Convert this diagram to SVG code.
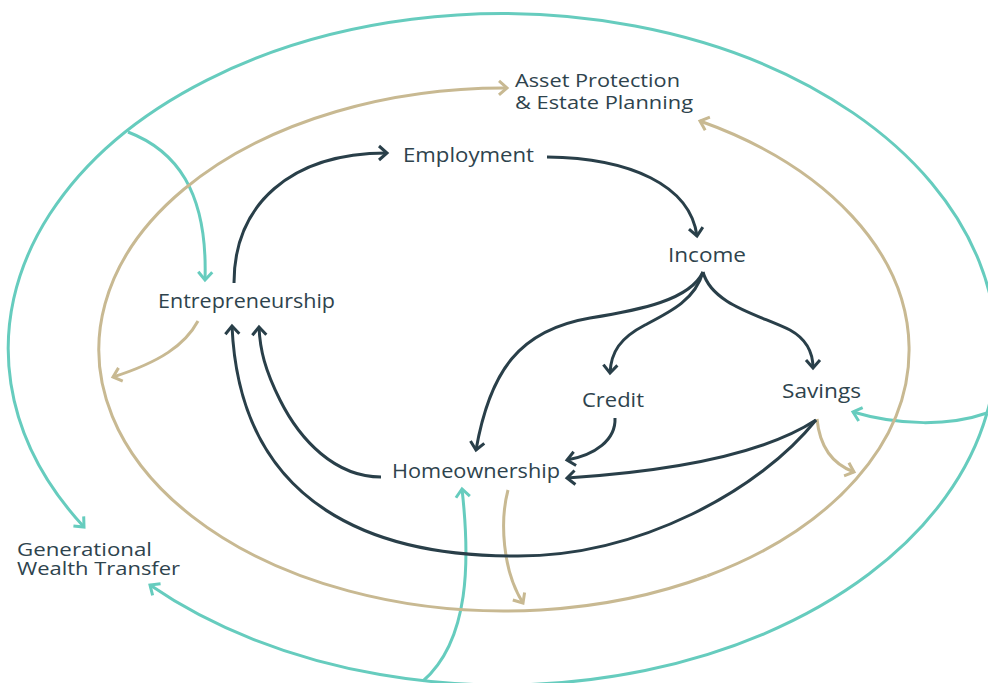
<svg xmlns="http://www.w3.org/2000/svg" width="988" height="683" viewBox="0 0 988 683">
  <style>
    .lbl { font-family: "Open Sans", "Noto Sans", "Liberation Sans", sans-serif; font-size: 20px; fill: #2e434d; }
    .sm { font-size: 19px; }
    .dk { fill: none; stroke: #293f49; stroke-width: 3; }
    .tl { fill: none; stroke: #66ccbe; stroke-width: 3; }
    .tn { fill: none; stroke: #c8b992; stroke-width: 3; }
  </style>
  <defs>
    <marker id="ah-dk" markerUnits="userSpaceOnUse" markerWidth="24" markerHeight="24" viewBox="-12 -12 24 24" refX="0" refY="0" orient="auto">
      <path d="M-8,-7 L0,0 L-8,7" fill="none" stroke="#293f49" stroke-width="3"/>
    </marker>
    <marker id="ah-tl" markerUnits="userSpaceOnUse" markerWidth="24" markerHeight="24" viewBox="-12 -12 24 24" refX="0" refY="0" orient="auto">
      <path d="M-8,-7 L0,0 L-8,7" fill="none" stroke="#66ccbe" stroke-width="3"/>
    </marker>
    <marker id="ah-tn" markerUnits="userSpaceOnUse" markerWidth="24" markerHeight="24" viewBox="-12 -12 24 24" refX="0" refY="0" orient="auto">
      <path d="M-8,-7 L0,0 L-8,7" fill="none" stroke="#c8b992" stroke-width="3"/>
    </marker>
  </defs>

  <g id="connectors">
    <!-- outer ring (teal) -->
    <path class="tl" d="M987,413 A494,335 0 1 0 84,527" marker-end="url(#ah-tl)"/>
    <path class="tl" d="M987,413 A494,335 0 0 1 150,585" marker-end="url(#ah-tl)"/>
    <path class="tl" d="M987,413 C950,426 900,426 853,412" marker-end="url(#ah-tl)"/>
    <path class="tl" d="M423,681 C470,640 470,560 462,489" marker-end="url(#ah-tl)"/>
    <path class="tl" d="M128,132 C175,150 208,190 205,280" marker-end="url(#ah-tl)"/>

    <!-- middle ring (tan) -->
    <path class="tn" d="M707,576 A405.5,261.5 0 1 1 507,88" marker-end="url(#ah-tn)"/>
    <path class="tn" d="M707,576 A405.5,261.5 0 0 0 700,121" marker-end="url(#ah-tn)"/>
    <path class="tn" d="M198,321 C185,345 160,362 113,377" marker-end="url(#ah-tn)"/>
    <path class="tn" d="M508,490 C500,520 502,570 523,603" marker-end="url(#ah-tn)"/>
    <path class="tn" d="M817,419 C820,450 835,465 854,472" marker-end="url(#ah-tn)"/>

    <!-- inner flows (dark) -->
    <path class="dk" d="M234,283 C234,205 290,153 387,153" marker-end="url(#ah-dk)"/>
    <path class="dk" d="M547,157 C630,158 690,185 697,236" marker-end="url(#ah-dk)"/>
    <path class="dk" d="M703,272 C712,305 760,315 790,330 C808,340 813,355 813,368" marker-end="url(#ah-dk)"/>
    <path class="dk" d="M703,272 C695,300 670,312 645,325 C620,338 611,352 610,373" marker-end="url(#ah-dk)"/>
    <path class="dk" d="M703,272 C690,300 640,310 590,318 C520,330 490,370 476,450" marker-end="url(#ah-dk)"/>
    <path class="dk" d="M615,418 C616,440 595,455 567,460" marker-end="url(#ah-dk)"/>
    <path class="dk" d="M816,420 C770,450 690,470 567,478" marker-end="url(#ah-dk)"/>
    <path class="dk" d="M816,420 C760,490 640,556 518,556 C380,557 240,510 232,326" marker-end="url(#ah-dk)"/>
    <path class="dk" d="M381,477 C335,477 300,440 280,400 C265,370 260,350 259,327" marker-end="url(#ah-dk)"/>
  </g>

  <g id="asset-protection">
    <text class="lbl sm" x="515" y="87" textLength="165" lengthAdjust="spacingAndGlyphs">Asset Protection</text>
    <text class="lbl sm" x="515" y="109" textLength="178" lengthAdjust="spacingAndGlyphs">&amp; Estate Planning</text>
  </g>
  <g id="employment">
    <text class="lbl" x="403" y="162" textLength="131" lengthAdjust="spacingAndGlyphs">Employment</text>
  </g>
  <g id="income">
    <text class="lbl" x="668" y="262" textLength="78" lengthAdjust="spacingAndGlyphs">Income</text>
  </g>
  <g id="credit">
    <text class="lbl" x="582" y="407" textLength="62" lengthAdjust="spacingAndGlyphs">Credit</text>
  </g>
  <g id="savings">
    <text class="lbl" x="782" y="398" textLength="79" lengthAdjust="spacingAndGlyphs">Savings</text>
  </g>
  <g id="entrepreneurship">
    <text class="lbl" x="158" y="308" textLength="177" lengthAdjust="spacingAndGlyphs">Entrepreneurship</text>
  </g>
  <g id="homeownership">
    <text class="lbl" x="392" y="478" textLength="168" lengthAdjust="spacingAndGlyphs">Homeownership</text>
  </g>
  <g id="generational-wealth-transfer">
    <text class="lbl sm" x="17" y="556" textLength="135" lengthAdjust="spacingAndGlyphs">Generational</text>
    <text class="lbl sm" x="17" y="575" textLength="163" lengthAdjust="spacingAndGlyphs">Wealth Transfer</text>
  </g>
</svg>
